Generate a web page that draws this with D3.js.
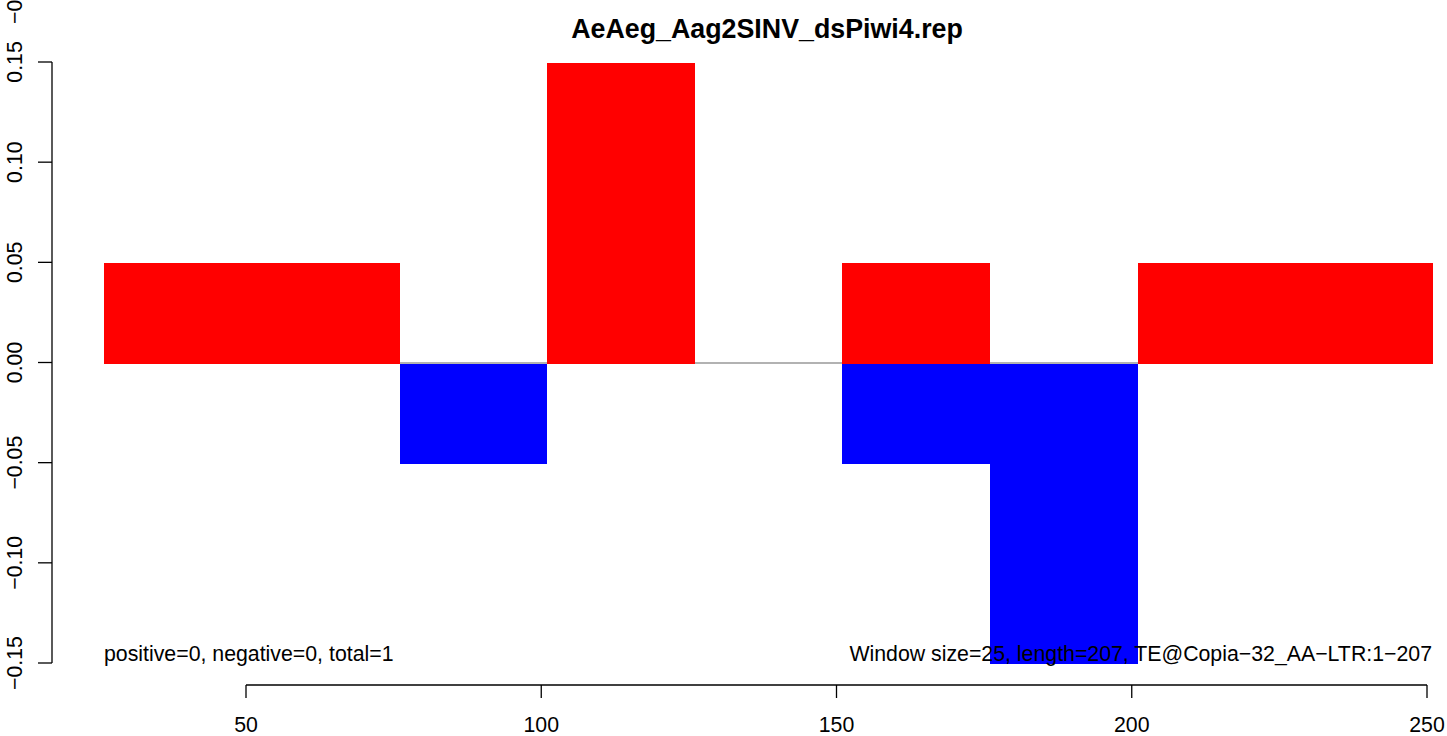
<!DOCTYPE html>
<html><head><meta charset="utf-8">
<script src="https://cdn.jsdelivr.net/npm/d3@7"></script>
<style>body{margin:0;background:#fff}svg{display:block}text{font-family:"Liberation Sans",Arial,sans-serif}</style>
</head><body>
<svg id="c" width="1447" height="736"></svg>
<script>
const windowStarts = [26, 51, 76, 101, 126, 151, 176, 201, 226];
const windowSize = 25;
const positiveValues = [0.05, 0.05, 0, 0.15, 0, 0.05, 0, 0.05, 0.05];
const negativeValues = [0, 0, -0.05, 0, 0, -0.05, -0.15, 0, 0];
const xTicks = [50, 100, 150, 200, 250];
const yTicks = [-0.15, -0.10, -0.05, 0.00, 0.05, 0.10, 0.15];
const title = "AeAeg_Aag2SINV_dsPiwi4.rep";
const leftNote = "positive=0, negative=0, total=1";
const rightNote = "Window size=25, length=207, TE@Copia\u221232_AA\u2212LTR:1\u2212207";

const svg = d3.select("#c");
const x = d3.scaleLinear().domain([50, 250]).range([246, 1427]);
const y = d3.scaleLinear().domain([-0.15, 0.15]).range([663, 62]);
const FS = 21.3;

// zero line
svg.append("line")
  .attr("x1", x(windowStarts[0])).attr("x2", x(windowStarts[windowStarts.length-1] + windowSize))
  .attr("y1", y(0)+0.5).attr("y2", y(0)+0.5)
  .attr("stroke", "#999").attr("stroke-width", 1.5);

const bars = svg.append("g").attr("shape-rendering", "crispEdges");
bars.selectAll("rect.pos").data(windowStarts.map((s,i)=>({s, v: positiveValues[i]})).filter(d=>d.v>0))
  .enter().append("rect")
  .attr("x", d=>Math.round(x(d.s))).attr("width", d=>Math.round(x(d.s+windowSize))-Math.round(x(d.s)))
  .attr("y", d=>Math.round(y(d.v))+1).attr("height", d=>Math.round(y(0))-Math.round(y(d.v)))
  .attr("fill", "#ff0000");

bars.selectAll("rect.neg").data(windowStarts.map((s,i)=>({s, v: negativeValues[i]})).filter(d=>d.v<0))
  .enter().append("rect")
  .attr("x", d=>Math.round(x(d.s))).attr("width", d=>Math.round(x(d.s+windowSize))-Math.round(x(d.s)))
  .attr("y", d=>Math.round(y(0))+1).attr("height", d=>Math.round(y(d.v))-Math.round(y(0)))
  .attr("fill", "#0000ff");

// y axis
const ya = svg.append("g").attr("transform", "translate(52,0)");
ya.append("line").attr("x1",0).attr("x2",0).attr("y1",y(0.15)).attr("y2",y(-0.15)).attr("stroke","#000").attr("stroke-width",1.3);
yTicks.forEach(t=>{
  ya.append("line").attr("x1",-14).attr("x2",0).attr("y1",y(t)).attr("y2",y(t)).attr("stroke","#000").attr("stroke-width",1.3);
  ya.append("text").attr("transform",`translate(-30,${y(t)}) rotate(-90)`)
    .attr("text-anchor","middle").attr("font-size",FS).attr("fill","#000")
    .text(d3.format(".2f")(t).replace("-","\u2212"));
});
// stray label at top, clipped by the page edge as in the reference
svg.append("text").attr("transform","translate(22,24) rotate(-90)").attr("text-anchor","start")
  .attr("font-size",FS).text("\u22120.20");

// x axis
const xa = svg.append("g").attr("transform","translate(0,685)");
xa.append("line").attr("x1",x(50)).attr("x2",x(250)).attr("y1",0).attr("y2",0).attr("stroke","#000").attr("stroke-width",1.3);
xTicks.forEach(t=>{
  xa.append("line").attr("x1",x(t)).attr("x2",x(t)).attr("y1",0).attr("y2",13).attr("stroke","#000").attr("stroke-width",1.3);
  xa.append("text").attr("x",x(t)).attr("y",47).attr("text-anchor","middle").attr("font-size",FS).text(t);
});

svg.append("text").attr("x",767).attr("y",38).attr("text-anchor","middle").attr("font-size",26.8).attr("font-weight","bold").text(title);
svg.append("text").attr("x",104).attr("y",661).attr("font-size",FS).text(leftNote);
svg.append("text").attr("x",1432).attr("y",661).attr("text-anchor","end").attr("font-size",FS).text(rightNote);
</script>
</body></html>
